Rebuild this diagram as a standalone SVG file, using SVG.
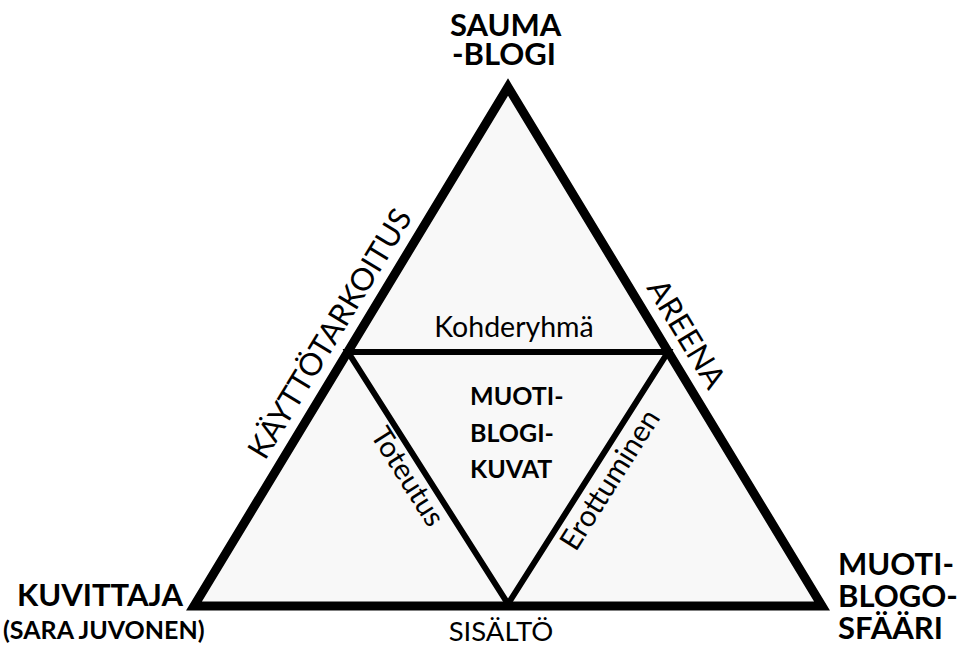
<svg xmlns="http://www.w3.org/2000/svg" width="960" height="645" viewBox="0 0 960 645">
  <style>
    .b { font-family: Lato, "Open Sans", "Liberation Sans", sans-serif; font-weight: 700; fill: #000; }
    .r { font-family: Lato, "Open Sans", "Liberation Sans", sans-serif; font-weight: 400; fill: #000; }
    .outer { fill: #f8f8f8; stroke: #000; stroke-width: 9; stroke-linejoin: miter; stroke-miterlimit: 10; }
    .inner { fill: none; stroke: #000; stroke-width: 6; stroke-linejoin: miter; stroke-miterlimit: 10; }
  </style>
  <rect width="960" height="645" fill="#fff"/>
  <g id="connectors">
    <polygon class="outer" points="508,87 822,606 194,606"/>
    <polygon class="inner" points="348,352 668,352 508,604"/>
  </g>
  <g id="node-sauma">
    <text class="b" font-size="31" x="450" y="36">SAUMA</text>
    <text class="b" font-size="31" x="452" y="65">-BLOGI</text>
  </g>
  <g id="node-kuvittaja">
    <text class="b" font-size="31" x="17" y="606">KUVITTAJA</text>
    <text class="b" font-size="25" x="3" y="639">(SARA JUVONEN)</text>
  </g>
  <g id="node-muotiblogosfaari">
    <text class="b" font-size="31" x="838" y="575">MUOTI-</text>
    <text class="b" font-size="31" x="838" y="607">BLOGO-</text>
    <text class="b" font-size="31" x="838" y="639">SFÄÄRI</text>
  </g>
  <g id="node-muotiblogikuvat">
    <text class="b" font-size="25" x="470" y="405">MUOTI-</text>
    <text class="b" font-size="25" x="470" y="442">BLOGI-</text>
    <text class="b" font-size="25" x="470" y="478">KUVAT</text>
  </g>
  <g id="edge-labels">
    <text class="r" font-size="28.5" x="514" y="337" text-anchor="middle">Kohderyhmä</text>
    <text class="r" font-size="27.5" x="501" y="641" text-anchor="middle">SISÄLTÖ</text>
    <text class="r" font-size="29" text-anchor="middle" transform="translate(399.3,481.9) rotate(57.7)">Toteutus</text>
    <text class="r" font-size="29.5" text-anchor="middle" transform="translate(618.3,485) rotate(-57.7)">Erottuminen</text>
    <text class="r" font-size="31" text-anchor="middle" transform="translate(339,339.2) rotate(-58.8)">KÄYTTÖTARKOITUS</text>
    <text class="r" font-size="31" text-anchor="middle" transform="translate(677.2,339.5) rotate(58.8)">AREENA</text>
  </g>
</svg>
